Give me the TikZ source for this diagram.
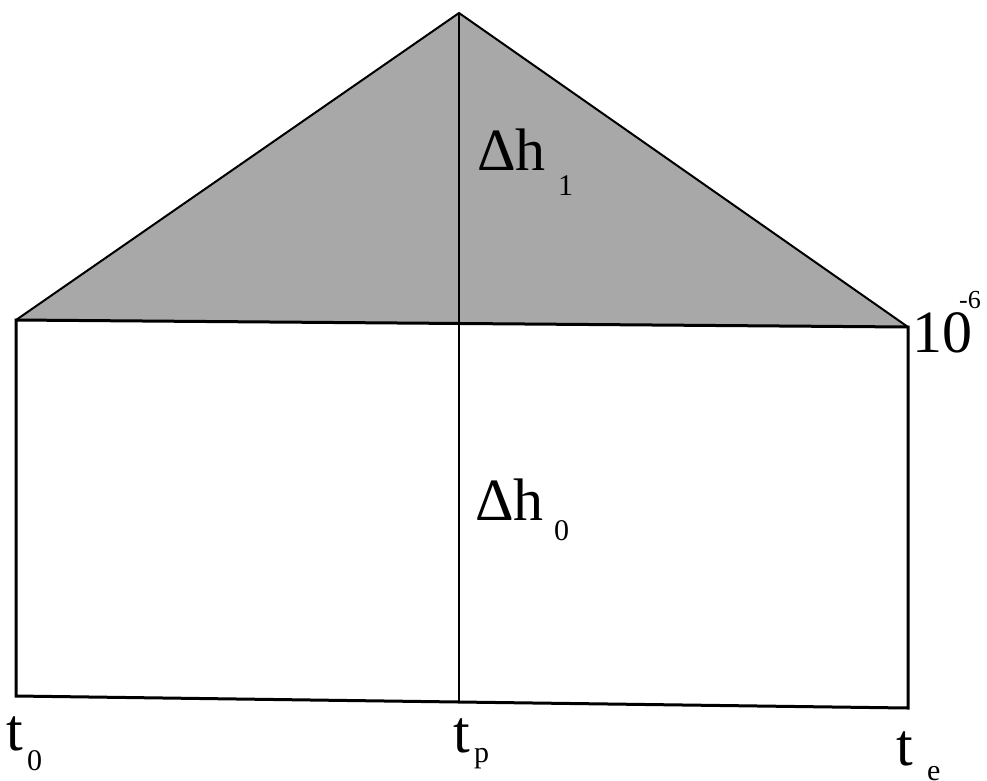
\documentclass[tikz,border=0pt]{standalone}
\usepackage{fontspec}
\setmainfont{Liberation Serif}
\begin{document}
\begin{tikzpicture}[x=1pt,y=-1pt,
  edge/.style={line width=3pt, line join=miter},
  big/.style={inner sep=0pt, anchor=base west, font=\fontsize{60}{60}\selectfont},
  sub/.style={inner sep=0pt, anchor=base west, font=\fontsize{30}{30}\selectfont},
  tiny/.style={inner sep=0pt, anchor=base west, font=\fontsize{26}{26}\selectfont}]
\useasboundingbox (0,0) rectangle (987,780);
\coordinate (apex) at (459,13);
\coordinate (tl) at (16,320);
\coordinate (tm) at (459,323);
\coordinate (tr) at (908,327);
\coordinate (bl) at (16,696);
\coordinate (bm) at (459,702);
\coordinate (br) at (908,708);
% shaded triangle
\fill[black!34] (tl) -- (apex) -- (tr) -- cycle;
\draw[line width=2pt] (tl) -- (apex) -- (tr);
% rectangle
\draw[edge] (tl) -- (tr) -- (br) -- (bm) -- (bl) -- cycle;
% middle vertical
\draw[line width=2.4pt] (apex) -- (bm);
% labels
\node[big] (dh1) at (477,170) {Δh};
\node[sub] (dh1s) at (558,195) {1};
\node[big] (dh0) at (475,520) {Δh};
\node[sub] (dh0s) at (554,540) {0};
\node[big] (ten) at (912,352) {10};
\node[tiny] (tensup) at (959,308) {-6};
\node[big] (t0) at (6,750) {t};
\node[sub] (t0s) at (27,770) {0};
\node[big] (tp) at (453,752) {t};
\node[sub] (tps) at (474,762) {p};
\node[big] (te) at (896,765) {t};
\node[sub] (tes) at (927,780) {e};
\end{tikzpicture}
\end{document}
